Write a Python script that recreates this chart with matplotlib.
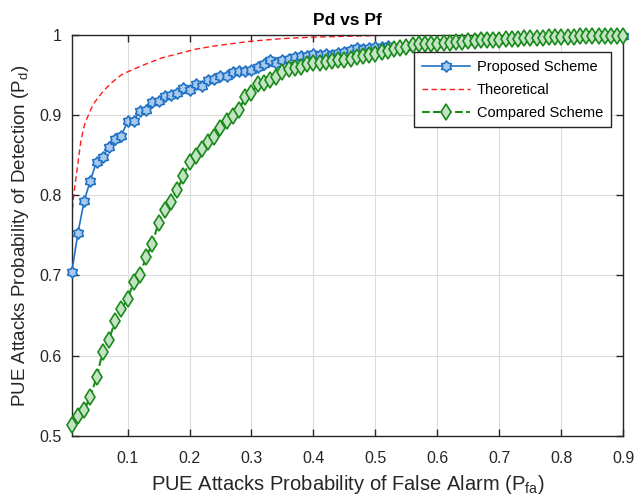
import numpy as np
import matplotlib
matplotlib.use("Agg")
import matplotlib.pyplot as plt
from matplotlib.path import Path

plt.rcParams['font.family'] = ['Liberation Sans', 'DejaVu Sans']
plt.rcParams['mathtext.fontset'] = 'custom'
plt.rcParams['mathtext.rm'] = 'Liberation Sans'
plt.rcParams['mathtext.it'] = 'Liberation Sans'

pf = np.round(np.arange(1, 91) / 100.0, 2)

pd_proposed = [
    0.704, 0.753, 0.793, 0.818, 0.842, 0.848, 0.860, 0.870, 0.874, 0.892,
    0.893, 0.905, 0.906, 0.916, 0.918, 0.924, 0.925, 0.928, 0.933, 0.931,
    0.938, 0.936, 0.944, 0.945, 0.948, 0.949, 0.953, 0.955, 0.955, 0.956,
    0.960, 0.963, 0.968, 0.965, 0.968, 0.970, 0.972, 0.973, 0.974, 0.976,
    0.975, 0.976, 0.975, 0.977, 0.978, 0.981, 0.983, 0.982, 0.983, 0.985,
    0.985, 0.986, 0.983, 0.984, 0.985, 0.987, 0.988, 0.988, 0.988, 0.989,
    0.990, 0.990, 0.991, 0.991, 0.992, 0.992, 0.993, 0.994, 0.994, 0.994,
    0.995, 0.995, 0.995, 0.996, 0.996, 0.996, 0.996, 0.997, 0.997, 0.997,
    0.997, 0.997, 0.998, 0.998, 0.998, 0.998, 0.998, 0.999, 0.999, 0.999,
]

pd_compared = [
    0.514, 0.525, 0.532, 0.549, 0.573, 0.605, 0.620, 0.643, 0.658, 0.671,
    0.692, 0.701, 0.723, 0.739, 0.766, 0.782, 0.792, 0.806, 0.824, 0.841,
    0.849, 0.858, 0.866, 0.873, 0.884, 0.892, 0.899, 0.906, 0.923, 0.927,
    0.938, 0.940, 0.943, 0.947, 0.953, 0.957, 0.959, 0.960, 0.963, 0.965,
    0.965, 0.966, 0.967, 0.968, 0.968, 0.970, 0.972, 0.973, 0.975, 0.976,
    0.978, 0.980, 0.982, 0.984, 0.985, 0.987, 0.988, 0.988, 0.988, 0.989,
    0.990, 0.990, 0.991, 0.991, 0.992, 0.992, 0.993, 0.994, 0.994, 0.994,
    0.995, 0.995, 0.995, 0.996, 0.996, 0.996, 0.996, 0.997, 0.997, 0.997,
    0.997, 0.997, 0.998, 0.998, 0.998, 0.998, 0.998, 0.999, 0.999, 0.999,
]

pf_theory = [0.01, 0.0125, 0.015, 0.0175, 0.02, 0.022, 0.025, 0.03, 0.033,
             0.037, 0.042, 0.047, 0.052, 0.058, 0.065, 0.074, 0.082, 0.09,
             0.098, 0.107, 0.128, 0.155, 0.185, 0.21, 0.24, 0.27, 0.30, 0.35,
             0.40, 0.45, 0.53, 0.60, 0.70, 0.80, 0.90]
pd_theory = [0.772, 0.795, 0.811, 0.826, 0.840, 0.852, 0.869, 0.886, 0.893,
             0.900, 0.909, 0.916, 0.921, 0.927, 0.933, 0.940, 0.945, 0.950,
             0.953, 0.956, 0.963, 0.971, 0.977, 0.982, 0.986, 0.989, 0.992,
             0.9952, 0.997, 0.998, 0.9996, 1.0, 1.0, 1.0, 1.0]

xticks = [0.1, 0.2, 0.3, 0.4, 0.5, 0.6, 0.7, 0.8, 0.9]
yticks = [0.5, 0.6, 0.7, 0.8, 0.9, 1.0]
yticklabels = ['0.5', '0.6', '0.7', '0.8', '0.9', '1']

# hexagram marker path
ang = np.deg2rad(90 + 30 * np.arange(12))
rad = np.where(np.arange(12) % 2 == 0, 1.0, 0.68)
verts = np.column_stack([rad * np.cos(ang), rad * np.sin(ang)])
verts = np.vstack([verts, verts[:1]])
codes = [Path.MOVETO] + [Path.LINETO] * 11 + [Path.CLOSEPOLY]
hexagram = Path(verts, codes)

fig = plt.figure(figsize=(6.35, 4.99), dpi=100)
ax = fig.add_axes([0.113, 0.1263, 0.8686, 0.8041])

blue = '#1f72c4'
green = '#1a8a1a'

ax.plot(pf, pd_proposed, '-', color=blue, lw=1.2,
        marker=hexagram, markersize=8, markerfacecolor='#a9c9ee',
        markeredgecolor=blue, markeredgewidth=1.2, label='Proposed Scheme',
        clip_on=False, zorder=3)
ax.plot(pf_theory, pd_theory, '--', color='#ff1a1a', lw=1.0,
        label='Theoretical', zorder=2, dashes=(4, 2.5))
ax.plot(pf, pd_compared, '--', color=green, lw=1.5,
        marker='d', markersize=8.5, markerfacecolor='#c4e3c4',
        markeredgecolor=green, markeredgewidth=1.2, label='Compared Scheme',
        clip_on=False, zorder=4)

ax.set_xlim(0.01, 0.9)
ax.set_ylim(0.5, 1.0)
ax.set_xticks(xticks)
ax.set_xticklabels([f'{t:g}' for t in xticks])
ax.set_yticks(yticks)
ax.set_yticklabels(yticklabels)
ax.tick_params(direction='in', top=True, right=True, length=5, width=1,
               labelsize=11.5, colors='#262626')
ax.tick_params(axis='x', pad=11)
ax.tick_params(axis='y', pad=7)
ax.grid(True, color='#dcdcdc', lw=0.8)
ax.set_axisbelow(True)
for s in ax.spines.values():
    s.set_color('#262626')
    s.set_linewidth(1.0)

ax.set_title('Pd vs Pf', fontsize=12.5, fontweight='bold', pad=7)
ax.set_xlabel('PUE Attacks Probability of False Alarm (P$_{\\mathrm{fa}}$)',
              fontsize=14.5, color='#262626', labelpad=5)
ax.set_ylabel('PUE Attacks Probability of Detection (P$_{\\mathrm{d}}$)',
              fontsize=13.5, color='#262626', labelpad=6)

leg = ax.legend(loc='upper right', bbox_to_anchor=(0.977, 0.956),
                borderaxespad=0, fancybox=False, edgecolor='#262626',
                fontsize=10.5, handlelength=3.3, framealpha=1,
                borderpad=0.5, labelspacing=0.62, handletextpad=0.5)
leg.get_frame().set_linewidth(1.0)

fig.savefig('out.png', dpi=100)
